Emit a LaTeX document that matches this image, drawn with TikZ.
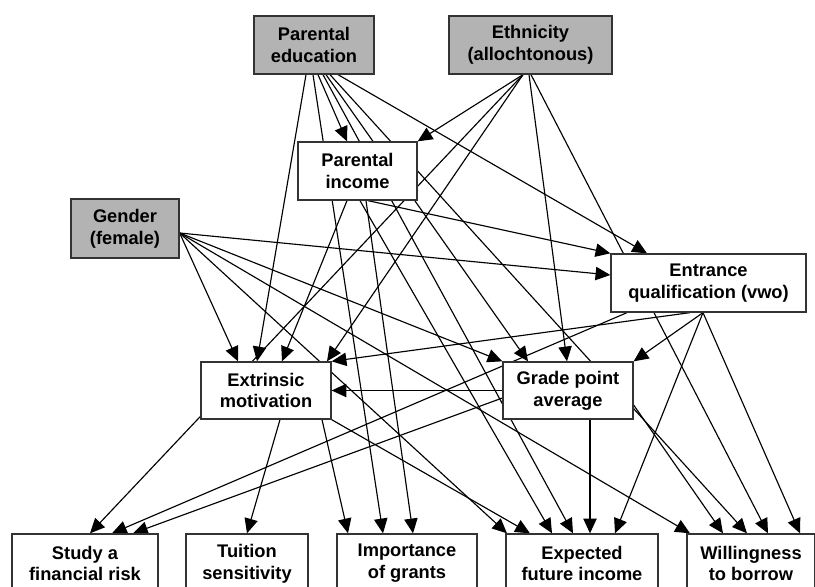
\documentclass[tikz,border=0pt]{standalone}
\usepackage{fontspec}
\setmainfont{Liberation Sans}
\usepackage{tikz}
\usetikzlibrary{arrows.meta,calc,backgrounds}

\definecolor{boxgray}{RGB}{179,179,179}

\begin{document}
\begin{tikzpicture}[x=0.2mm,y=-0.2mm,
    box/.style={draw=black!80, line width=0.75pt, fill=white, align=center,
        inner sep=0pt, font=\fontsize{10.4}{12.4}\selectfont\bfseries},
    exo/.style={box, fill=boxgray},
    path/.style={line width=0.65pt, -{Triangle[length=8.4pt,width=7.6pt]}}]
    \useasboundingbox (0,0) rectangle (815,587);
    %Exogenous
    \node[exo, minimum width=120*0.2mm, minimum height=58*0.2mm] (pe) at (314,45) {Parental\\education};
    \node[exo, minimum width=163*0.2mm, minimum height=58*0.2mm] (et) at (530.5,45) {Ethnicity\\(allochtonous)};
    \node[exo, minimum width=108*0.2mm, minimum height=59*0.2mm] (ge) at (125,228.5) {Gender\\(female)};
    %Mediators
    \node[box, minimum width=119*0.2mm, minimum height=58*0.2mm] (pi) at (357.5,171) {Parental\\income};
    \node[box, minimum width=195*0.2mm, minimum height=58*0.2mm] (eq) at (708.5,283) {Entrance\\qualification (vwo)};
    \node[box, minimum width=130*0.2mm, minimum height=57*0.2mm] (em) at (266,390.5) {Extrinsic\\motivation};
    \node[box, minimum width=130*0.2mm, minimum height=57*0.2mm] (gpa) at (568,390.5) {Grade point\\average};
    %Outcomes
    \node[box, minimum width=146*0.2mm, minimum height=59*0.2mm] (risk) at (85,563.5) {Study a\\financial risk};
    \node[box, minimum width=122*0.2mm, minimum height=59*0.2mm] (tui) at (247,563.5) {Tuition\\sensitivity};
    \node[box, minimum width=140*0.2mm, minimum height=59*0.2mm] (imp) at (407,563.5) {Importance\\of grants};
    \node[box, minimum width=152*0.2mm, minimum height=59*0.2mm] (inc) at (582,563.5) {Expected\\future income};
    \node[box, minimum width=128*0.2mm, minimum height=59*0.2mm] (bor) at (751,563.5) {Willingness\\to borrow};
    %Paths
    \begin{scope}[on background layer]
    % parental education
    \draw[path] ($(pe.south)+(-8,0)$) -- ($(em.north)+(-9,0)$);
    \draw[path] ($(pe.south)+(-1,0)$) -- ($(imp.north)+(-24,0)$);
    \draw[path] ($(pe.south)+(4,0)$) -- ($(pi.north)+(-10.5,0)$);
    \draw[path] ($(pe.south)+(9,0)$) -- ($(inc.north)+(-9,0)$);
    \draw[path] ($(pe.south)+(12,0)$) -- ($(gpa.north)+(-40,0)$);
    \draw[path] ($(pe.south)+(16,0)$) -- ($(bor.north)+(-4,0)$);
    \draw[path] ($(pe.south)+(24,0)$) -- ($(eq.north)+(-61.5,0)$);
    % ethnicity
    \draw[path] ($(et.south)+(-7.5,0)$) -- (pi.north east);
    \draw[path] ($(et.south)+(-7.5,0)$) -- ($(risk.north)+(5,0)$);
    \draw[path] ($(et.south)+(-7.5,0)$) -- ($(em.north)+(61,0)$);
    \draw[path] ($(et.south)+(-1.5,0)$) -- ($(gpa.north)+(-1,0)$);
    \draw[path] ($(et.south)+(0.5,0)$) -- ($(bor.north)+(17,0)$);
    % gender
    \draw[path] ($(ge.east)+(0,4.5)$) -- ($(em.north)+(-28,0)$);
    \draw[path] ($(ge.east)+(0,4.5)$) -- ($(eq.west)+(0,-8)$);
    \draw[path] ($(ge.east)+(0,4.5)$) -- (gpa.north west);
    \draw[path] ($(ge.east)+(0,4.5)$) -- ($(inc.north)+(-75,0)$);
    \draw[path] ($(ge.east)+(0,4.5)$) -- ($(bor.north)+(-61,0)$);
    % parental income
    \draw[path] ($(pi.south)+(10.5,0)$) -- (eq.north west);
    \draw[path] ($(pi.south)+(-10.5,0)$) -- ($(em.north)+(16,0)$);
    \draw[path] ($(pi.south)+(8.5,0)$) -- ($(imp.north)+(6,0)$);
    \draw[path] ($(pi.south)+(2.5,0)$) -- ($(inc.north)+(-30,0)$);
    % entrance qualification
    \draw[path] ($(eq.south)+(-18.5,0)$) -- (em.north east);
    \draw[path] ($(eq.south)+(-5.5,0)$) -- (gpa.north east);
    \draw[path] ($(eq.south)+(-81.5,0)$) -- ($(risk.north)+(27,0)$);
    \draw[path] ($(eq.south)+(-5.5,0)$) -- ($(inc.north)+(33,0)$);
    \draw[path] ($(eq.south)+(-5.5,0)$) -- ($(bor.north)+(49,0)$);
    % grade point average
    \draw[path] (gpa.west) -- (em.east);
    \draw[path] ($(gpa.west)+(0,7.5)$) -- ($(risk.north)+(48,0)$);
    \draw[path] ($(gpa.south)+(22,0)$) -- ($(inc.north)+(8,0)$);
    \draw[path] ($(gpa.east)+(0,14.5)$) -- ($(bor.north)+(-28,0)$);
    % extrinsic motivation
    \draw[path] ($(em.south)+(14,0)$) -- (tui.north);
    \draw[path] ($(em.south)+(56,0)$) -- ($(imp.north)+(-59,0)$);
    \draw[path] (em.south east) -- ($(inc.north)+(-52,0)$);
    \end{scope}
\end{tikzpicture}
\end{document}
